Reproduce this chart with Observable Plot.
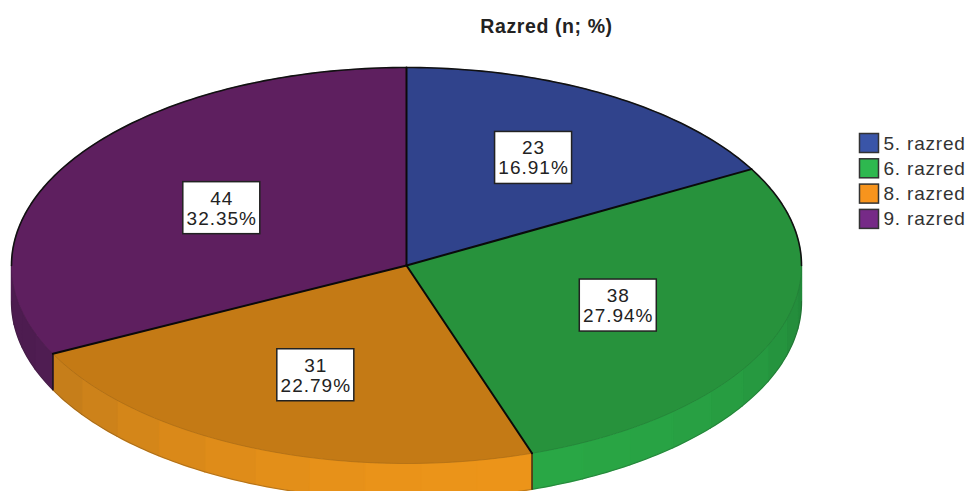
<!DOCTYPE html>
<html>
<head>
<meta charset="utf-8">
<script src="https://cdn.jsdelivr.net/npm/d3@7"></script>
<script src="https://cdn.jsdelivr.net/npm/@observablehq/plot@0.6"></script>
<style>html,body{margin:0;padding:0;background:#fff}svg{display:block}</style>
</head>
<body>
<div id="chart"></div>
<script>
// Data
const categories = ["5. razred", "6. razred", "8. razred", "9. razred"];
const counts = [23, 38, 31, 44];
const percents = ["16.91%", "27.94%", "22.79%", "32.35%"];
const chartTitle = "Razred (n; %)";

// Colours
const topColors = ["#30438c", "#27923c", "#c47a15", "#5e1f5f"];
const sideDark = ["#263670", "#1f7a35", "#b8761a", "#4d1c50"];
const sideBright = ["#30438c", "#29a745", "#ec9419", "#5a2160"];
const legendColors = ["#3a55a8", "#2eb84f", "#f7941d", "#762a87"];

// Layout of the tilted disc
const W = 968, H = 491, CX = 406, CY = 265, RX = 395, RY = 198, DEPTH = 36;
const labelRadiusX = [0.635, 0.575, 0.60, 0.55];
const labelRadiusY = [0.63, 0.56, 0.60, 0.55];
const ux = (px) => (px - CX) / RX;
const uy = (py) => (CY - py) / RY;
const thick = DEPTH / RY;

const total = d3.sum(counts);
let acc = 0;
const slices = categories.map((c, i) => {
  const a0 = acc / total * 360;
  acc += counts[i];
  return {i, c, a0, a1: acc / total * 360};
});
const pt = (deg, r = 1, drop = 0) => {
  const t = deg * Math.PI / 180;
  return {u: r * Math.sin(t), v: r * Math.cos(t) - drop};
};
const arc = (a0, a1) => {
  const n = Math.max(1, Math.ceil(a1 - a0));
  return d3.range(n + 1).map((k) => a0 + (a1 - a0) * k / n);
};

// Top surface polygons
const topPts = slices.flatMap((s) =>
  [{u: 0, v: 0}, ...arc(s.a0, s.a1).map((d) => pt(d))].map((p) => ({...p, id: s.i, fill: topColors[s.i]})));

// Side band, faceted
const FACET = 8.4;
const sidePts = [];
slices.forEach((s) => {
  const a0 = Math.max(s.a0, 90), a1 = Math.min(s.a1, 270);
  if (a1 <= a0) return;
  const n = Math.ceil((a1 - a0) / FACET);
  for (let k = 0; k < n; k++) {
    const b0 = a0 + (a1 - a0) * k / n, b1 = a0 + (a1 - a0) * (k + 1) / n;
    const mid = (b0 + b1) / 2;
    const t = Math.max(0, Math.cos((mid - 165) * Math.PI / 180));
    const fill = d3.rgb(d3.interpolateRgb(sideDark[s.i], sideBright[s.i])(t)).formatHex();
    const id = s.i + "-" + k;
    const upper = arc(b0, b1).map((d) => pt(d));
    const lower = arc(b0, b1).reverse().map((d) => pt(d, 1, thick));
    [...upper, ...lower, upper[0]].forEach((p) => sidePts.push({...p, id, fill}));
  }
});

// Outlines
const rimUp = [...arc(270, 360), ...arc(0, 90)].map((d) => pt(d));
const rimLow = arc(90, 270).map((d) => pt(d, 1, thick));
const radii = slices.flatMap((s) => [{u: 0, v: 0, id: s.i}, {...pt(s.a0), id: s.i}]);
const edges = slices
  .filter((s) => s.a0 > 90 && s.a0 < 270)
  .flatMap((s) => [{...pt(s.a0), id: s.i}, {...pt(s.a0, 1, thick), id: s.i}]);
const frontRim = arc(90, 270).map((d) => pt(d));

// Labels
const labels = slices.map((s) => {
  const m = (s.a0 + s.a1) / 2;
  return {
    u: pt(m, labelRadiusX[s.i]).u,
    v: pt(m, labelRadiusY[s.i]).v,
    text: counts[s.i] + "\n" + percents[s.i]
  };
});

// Legend
const LEG_X = 859.5, LEG_Y0 = 143, LEG_DY = 25.3;
const legend = categories.map((c, i) => ({
  c, color: legendColors[i],
  x: ux(LEG_X), y: uy(LEG_Y0 + i * LEG_DY), tx: ux(LEG_X + 23.5)
}));

const chart = Plot.plot({
  width: W, height: H,
  marginTop: 0, marginRight: 0, marginBottom: 0, marginLeft: 0,
  x: {domain: [ux(0), ux(W)], range: [0, W], axis: null},
  y: {domain: [uy(0), uy(H)], range: [0, H], axis: null},
  color: {type: "identity"},
  style: {background: "#fff", fontFamily: "'Liberation Sans', Arial, sans-serif"},
  marks: [
    Plot.line(sidePts, {x: "u", y: "v", z: "id", fill: "fill", stroke: "fill", strokeWidth: 1.4, strokeLinejoin: "round"}),
    Plot.line(rimLow, {x: "u", y: "v", stroke: "#222", strokeWidth: 0.8, strokeOpacity: 0.3}),
    Plot.line(topPts, {x: "u", y: "v", z: "id", fill: "fill", stroke: "fill", strokeWidth: 0.5}),
    Plot.line(frontRim, {x: "u", y: "v", stroke: "#222", strokeWidth: 0.5, strokeOpacity: 0.25}),
    Plot.line(edges, {x: "u", y: "v", z: "id", stroke: "#111", strokeWidth: 1.2}),
    Plot.line(rimUp, {x: "u", y: "v", stroke: "#111", strokeWidth: 1.6}),
    Plot.line(radii, {x: "u", y: "v", z: "id", stroke: "#0a0a0a", strokeWidth: 2}),
    Plot.rect(labels, {x1: "u", x2: "u", y1: "v", y2: "v", insetLeft: -38.5, insetRight: -38.5, insetTop: -26, insetBottom: -26, fill: "#fff", stroke: "#222", strokeWidth: 1.5}),
    Plot.text(labels, {x: "u", y: "v", text: "text", fontSize: 19, lineHeight: 1.06, fill: "#222", textAnchor: "middle", className: "lab"}),
    Plot.text([chartTitle], {x: ux(546), y: uy(26), text: (d) => d, fontSize: 19.5, fontWeight: "bold", fill: "#222", textAnchor: "middle", className: "ttl"}),
    Plot.rect(legend, {x1: "x", x2: "x", y1: "y", y2: "y", insetLeft: 0, insetRight: -19, insetTop: -9.5, insetBottom: -9.5, fill: "color", stroke: "#333", strokeWidth: 1.5}),
    Plot.text(legend, {x: "tx", y: "y", text: "c", fontSize: 19, fill: "#333", textAnchor: "start", className: "leg"})
  ]
});
// wider glyph tracking, as in the horizontally stretched original
const tracking = {lab: "1px", ttl: "0.6px", leg: "0.8px"};
for (const [k, v] of Object.entries(tracking)) {
  chart.querySelectorAll("." + k).forEach((el) => { el.style.letterSpacing = v; });
}
document.getElementById("chart").appendChild(chart);
</script>
</body>
</html>
